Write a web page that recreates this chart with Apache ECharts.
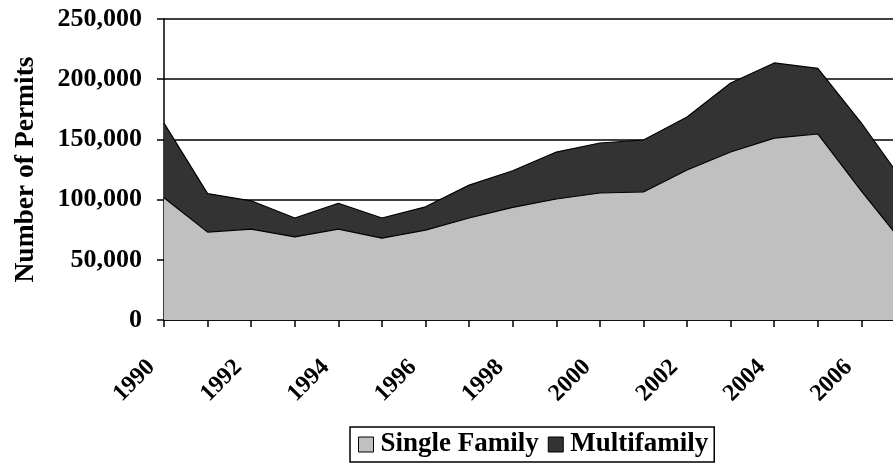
<!DOCTYPE html>
<html>
<head>
<meta charset="utf-8">
<script src="https://cdn.jsdelivr.net/npm/echarts@6/dist/echarts.min.js"></script>
<style>
  html, body { margin: 0; padding: 0; background: #fff; }
  #chart { width: 893px; height: 467px; }
</style>
</head>
<body>
<div id="chart"></div>
<script>
// 年份与数据
var years = ['1990', '1991', '1992', '1993', '1994', '1995', '1996', '1997', '1998',
  '1999', '2000', '2001', '2002', '2003', '2004', '2005', '2006', '2007'];
var singleFamily = [101500, 73000, 75500, 69000, 75500, 68000, 74700, 84700, 93500,
  100500, 105500, 106300, 124600, 139500, 151000, 154500, 107000, 62000];
var multiFamily = [62000, 32000, 23500, 15700, 21500, 16700, 19300, 27300, 30500,
  39000, 41500, 43200, 44000, 57300, 62500, 54500, 56600, 51000];
var yTicks = [0, 50000, 100000, 150000, 200000, 250000];

var font = "'Liberation Serif', 'Times New Roman', serif";

var myChart = echarts.init(document.getElementById('chart'));

var option = {
  backgroundColor: '#fff',
  animation: false,
  textStyle: { fontFamily: font, fontWeight: 'bold', color: '#000' },
  grid: {
    left: 164,
    width: 741,   // 2007 落在画布右侧之外，和原图一样被裁掉
    top: 19,
    bottom: 147,
    containLabel: false,
    outerBoundsMode: 'none'
  },
  legend: {
    left: 350,
    top: 427,
    icon: 'rect',
    itemWidth: 15,
    itemHeight: 15,
    itemGap: 9,
    padding: [4, 6, 4, 8],
    borderColor: '#000',
    borderWidth: 1.5,
    itemStyle: { borderColor: '#000', borderWidth: 1 },
    textStyle: { fontFamily: font, fontWeight: 'bold', fontSize: 27, color: '#000', padding: [0, 0, 0, 2] },
    data: [
      { name: 'Single Family', itemStyle: { color: '#c0c0c0' } },
      { name: 'Multifamily', itemStyle: { color: '#333333' } }
    ]
  },
  xAxis: {
    type: 'category',
    boundaryGap: false,
    data: years,
    axisLine: { lineStyle: { color: '#000', width: 1.5 } },
    axisTick: { show: true, interval: 0, length: 7, lineStyle: { color: '#000', width: 1.5 } },
    axisLabel: {
      interval: 1,
      rotate: 45,
      margin: 31,
      padding: [0, 18, 0, 0],
      fontFamily: font,
      fontWeight: 'bold',
      fontSize: 24,
      color: '#000'
    },
    splitLine: { show: false }
  },
  yAxis: {
    type: 'value',
    min: yTicks[0],
    max: yTicks[yTicks.length - 1],
    interval: 50000,
    name: 'Number of Permits',
    nameLocation: 'middle',
    nameGap: 124,
    nameRotate: 90,
    nameTextStyle: { fontFamily: font, fontWeight: 'bold', fontSize: 27.5, color: '#000' },
    axisLine: { show: true, lineStyle: { color: '#000', width: 1.5 } },
    axisTick: { show: true, length: 7, lineStyle: { color: '#000', width: 1.5 } },
    axisLabel: {
      margin: 22,
      fontFamily: font,
      fontWeight: 'bold',
      fontSize: 26,
      color: '#000',
      formatter: function (v) { return v.toLocaleString('en-US'); }
    },
    splitLine: { show: true, lineStyle: { color: '#000', width: 1.5 } }
  },
  series: [
    {
      name: 'Single Family',
      type: 'line',
      stack: 'permits',
      showSymbol: false,
      symbol: 'none',
      itemStyle: { color: '#c0c0c0' },
      lineStyle: { color: '#000', width: 1.2 },
      areaStyle: { color: '#c0c0c0', opacity: 1 },
      data: singleFamily
    },
    {
      name: 'Multifamily',
      type: 'line',
      stack: 'permits',
      showSymbol: false,
      symbol: 'none',
      itemStyle: { color: '#333333' },
      lineStyle: { color: '#000', width: 1.2 },
      areaStyle: { color: '#333333', opacity: 1 },
      data: multiFamily
    }
  ]
};

myChart.setOption(option);
window.addEventListener('resize', function () {
  myChart.resize();
});
</script>
</body>
</html>
